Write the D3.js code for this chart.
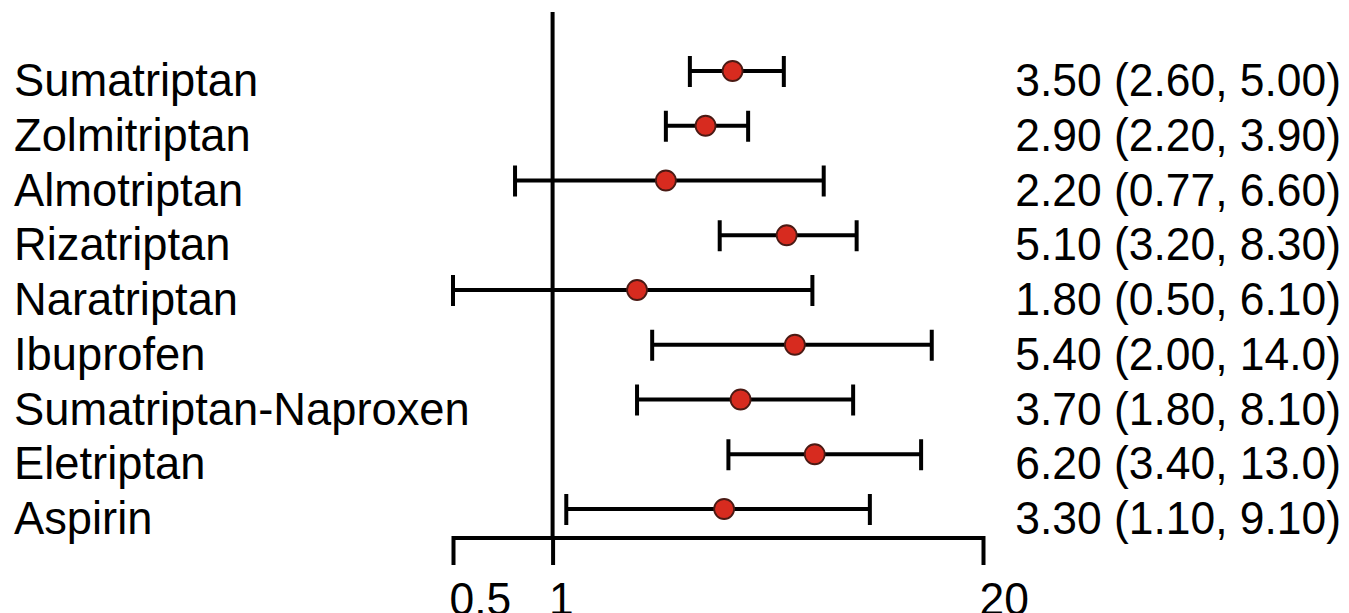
<!DOCTYPE html>
<html><head><meta charset="utf-8">
<script src="https://cdn.jsdelivr.net/npm/d3@7"></script>
<style>body{margin:0;background:#fff}svg{display:block}text{font-family:"Liberation Sans",Arial,sans-serif;fill:#000}</style>
</head><body>
<svg id="c" width="1349" height="613"></svg>
<script>
const drugs = ["Sumatriptan","Zolmitriptan","Almotriptan","Rizatriptan","Naratriptan","Ibuprofen","Sumatriptan-Naproxen","Eletriptan","Aspirin"];
const estimates = [3.50, 2.90, 2.20, 5.10, 1.80, 5.40, 3.70, 6.20, 3.30];
const lowers = [2.60, 2.20, 0.77, 3.20, 0.50, 2.00, 1.80, 3.40, 1.10];
const uppers = [5.00, 3.90, 6.60, 8.30, 6.10, 14.0, 8.10, 13.0, 9.10];
const ciLabels = ["3.50 (2.60, 5.00)","2.90 (2.20, 3.90)","2.20 (0.77, 6.60)","5.10 (3.20, 8.30)","1.80 (0.50, 6.10)","5.40 (2.00, 14.0)","3.70 (1.80, 8.10)","6.20 (3.40, 13.0)","3.30 (1.10, 9.10)"];
const tickValues = [0.5, 1, 20];
const tickLabels = ["0.5", "1", "20"];

const svg = d3.select("#c");
const x = d3.scaleLog().domain([0.5, 20]).range([453, 983]);
const y = d3.scalePoint().domain(drugs).range([71, 509]);
const FS = 46, SXL = 0.985, SXR = 0.965;

// reference line at 1
svg.append("line").attr("x1", x(1)).attr("x2", x(1)).attr("y1", 12).attr("y2", 540)
  .attr("stroke", "#000").attr("stroke-width", 4);

// axis
const axis = d3.axisBottom(x).tickValues(tickValues).tickSize(27).tickSizeOuter(0)
  .tickFormat((d, i) => tickLabels[i]);
const ag = svg.append("g").attr("transform", "translate(0,538)").call(axis);
ag.select(".domain").attr("stroke", "#000").attr("stroke-width", 4).attr("d", `M${x(0.5)},0H${x(20)}`);
ag.selectAll(".tick line").attr("stroke", "#000").attr("stroke-width", 4).attr("y1", -2);
ag.selectAll(".tick text").attr("font-size", FS).attr("fill", "#000")
  .attr("text-anchor", "start").attr("dy", null).attr("y", 77)
  .attr("transform", `translate(-4,0) scale(${SXR},1)`)
  .attr("x", 0);

const rows = svg.append("g").selectAll("g").data(drugs).join("g");
rows.append("line")
  .attr("x1", (d, i) => x(lowers[i])).attr("x2", (d, i) => x(uppers[i]))
  .attr("y1", d => y(d)).attr("y2", d => y(d))
  .attr("stroke", "#000").attr("stroke-width", 4);
rows.append("line")
  .attr("x1", (d, i) => x(lowers[i])).attr("x2", (d, i) => x(lowers[i]))
  .attr("y1", d => y(d) - 15).attr("y2", d => y(d) + 16)
  .attr("stroke", "#000").attr("stroke-width", 4);
rows.append("line")
  .attr("x1", (d, i) => x(uppers[i])).attr("x2", (d, i) => x(uppers[i]))
  .attr("y1", d => y(d) - 15).attr("y2", d => y(d) + 16)
  .attr("stroke", "#000").attr("stroke-width", 4);
rows.append("circle")
  .attr("cx", (d, i) => x(estimates[i])).attr("cy", d => y(d)).attr("r", 10)
  .attr("fill", "#d72b1f").attr("stroke", "#4a1a14").attr("stroke-width", 1.8);

rows.append("text")
  .attr("transform", d => `translate(14,${y(d) + 25}) scale(${SXL},1)`)
  .attr("font-size", FS).text(d => d);
rows.append("text")
  .attr("transform", d => `translate(1341,${y(d) + 25}) scale(${SXR},1)`)
  .attr("text-anchor", "end")
  .attr("font-size", FS).text((d, i) => ciLabels[i]);
</script>
</body></html>
